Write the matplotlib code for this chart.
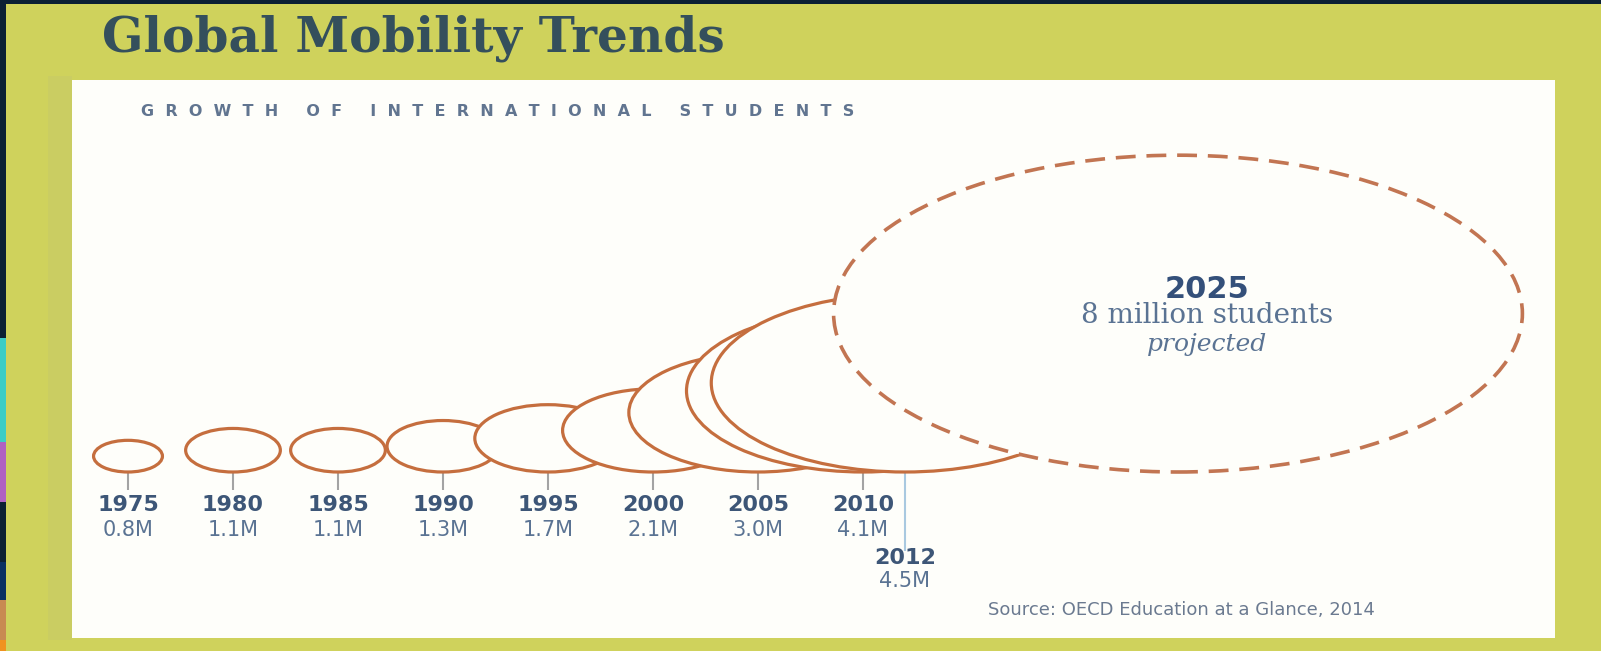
import matplotlib.pyplot as plt
from matplotlib.patches import Ellipse, Rectangle

# data
years = [1975, 1980, 1985, 1990, 1995, 2000, 2005, 2010, 2012]
students = [0.8, 1.1, 1.1, 1.3, 1.7, 2.1, 3.0, 4.1, 4.5]
value_labels = ["0.8M", "1.1M", "1.1M", "1.3M", "1.7M", "2.1M", "3.0M", "4.1M", "4.5M"]
proj_year = 2025
proj_students = 8

title = "Global Mobility Trends"
subtitle = "GROWTH OF INTERNATIONAL STUDENTS"
source = "Source: OECD Education at a Glance, 2014"

W, H = 1601, 651
fig = plt.figure(figsize=(W / 100, H / 100), dpi=100)
fig.patch.set_facecolor('#0b2034')

# background layer in pixel coordinates
bg = fig.add_axes([0, 0, 1, 1])
bg.set_xlim(0, W)
bg.set_ylim(H, 0)
bg.axis('off')

# coloured strip on the far left edge
strip = [(338, 442, '#3ccdc6'), (442, 502, '#b062c2'), (502, 562, '#0c2033'),
         (562, 600, '#0a3062'), (600, 640, '#c88a52'), (640, 651, '#f0921f')]
for top, bottom, c in strip:
    bg.add_patch(Rectangle((0, top), 6, bottom - top, color=c, lw=0))

bg.add_patch(Rectangle((6, 4), W - 6, H - 4, color='#cfd25c', lw=0))
bg.add_patch(Rectangle((48, 76), 24, 564, color='#cacd62', lw=0))
bg.add_patch(Rectangle((72, 80), 1555 - 72, 638 - 80, color='#fefefa', lw=0))

bg.text(102, 38, title, va='center', ha='left', fontfamily='DejaVu Serif',
        weight='bold', size=35, color='#344f5c')
spaced = "     ".join("  ".join(w) for w in subtitle.split())
bg.text(141, 112, spaced, va='center', ha='left', fontfamily='DejaVu Sans',
        weight='bold', size=11.5, color='#617590')
bg.text(988, 610, source, va='center', ha='left', fontfamily='DejaVu Sans',
        size=13, color='#6b7a90')

# chart layer: x in years, y in millions of students
X0_PX, PX_PER_YEAR = 128, 21.0
BASE_PX, PX_PER_M = 472, 19.8
WIDTH_PER_M = 4.1  # ellipse width in years per million

ax = fig.add_axes([0, 0, 1, 1])
ax.set_xlim(1975 - X0_PX / PX_PER_YEAR, 1975 + (W - X0_PX) / PX_PER_YEAR)
ax.set_ylim((BASE_PX - H) / PX_PER_M, BASE_PX / PX_PER_M)
ax.patch.set_alpha(0)
ax.axis('off')

ring = '#c56e3e'
text_dark = '#3d5677'
text_light = '#5a7393'

for i, (yr, v) in enumerate(zip(years, students)):
    ax.add_patch(Ellipse((yr, v), width=WIDTH_PER_M * v, height=2 * v,
                         facecolor='#fefefa', edgecolor=ring, lw=2.3, zorder=2 + i))
    if yr == 2012:
        ax.vlines(yr, -4.0, 0, color='#a9c9e0', lw=1.5, zorder=1)
        ax.text(yr, -4.34, str(yr), ha='center', va='center', size=16,
                weight='bold', color=text_dark)
        ax.text(yr, -5.51, value_labels[i], ha='center', va='center', size=15,
                color=text_light)
    else:
        ax.vlines(yr, -0.91, 0, color='#a3a3a3', lw=1.5, zorder=1)
        ax.text(yr, -1.67, str(yr), ha='center', va='center', size=16,
                weight='bold', color=text_dark)
        ax.text(yr, -2.93, value_labels[i], ha='center', va='center', size=15,
                color=text_light)

# projected 2025 bubble
ax.add_patch(Ellipse((proj_year, proj_students), width=WIDTH_PER_M * proj_students,
                     height=2 * proj_students, facecolor='#fefefa', edgecolor='#c27552',
                     lw=2.6, ls=(0, (5.5, 3)), zorder=20))
ax.text(proj_year + 1.4, 9.24, str(proj_year), ha='center', va='center', size=22,
        weight='bold', color='#34507a', zorder=21)
ax.text(proj_year + 1.4, 7.88, f"{proj_students} million students", ha='center',
        va='center', size=20, fontfamily='DejaVu Serif', color=text_light, zorder=21)
ax.text(proj_year + 1.4, 6.46, "projected", ha='center', va='center', size=18,
        fontfamily='DejaVu Serif', style='italic', color=text_light, zorder=21)

fig.savefig('out.png', dpi=100, facecolor=fig.get_facecolor())
